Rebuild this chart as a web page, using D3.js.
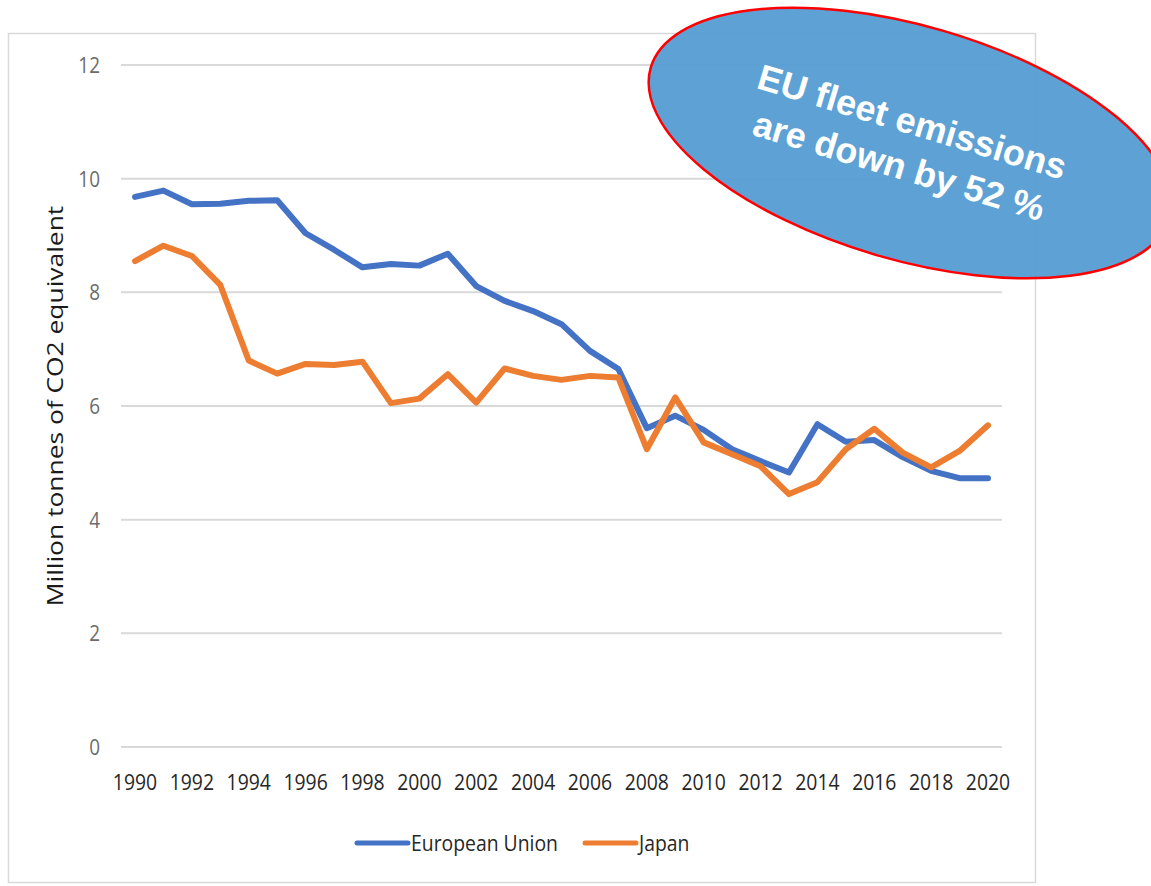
<!DOCTYPE html>
<html>
<head>
<meta charset="utf-8">
<script src="https://cdn.jsdelivr.net/npm/d3@7"></script>
<style>
  body { margin: 0; background: #fff; }
</style>
</head>
<body>
<script>
var years = [1990, 1991, 1992, 1993, 1994, 1995, 1996, 1997, 1998, 1999, 2000,
  2001, 2002, 2003, 2004, 2005, 2006, 2007, 2008, 2009, 2010,
  2011, 2012, 2013, 2014, 2015, 2016, 2017, 2018, 2019, 2020];

var euValues = [9.68, 9.79, 9.55, 9.56, 9.61, 9.62, 9.04, 8.75, 8.44, 8.50, 8.47,
  8.68, 8.11, 7.85, 7.67, 7.44, 6.97, 6.65, 5.61, 5.83, 5.58,
  5.24, 5.03, 4.83, 5.68, 5.37, 5.40, 5.10, 4.86, 4.73, 4.73];

var japanValues = [8.55, 8.82, 8.64, 8.13, 6.80, 6.57, 6.74, 6.72, 6.78, 6.05, 6.13,
  6.56, 6.06, 6.66, 6.53, 6.46, 6.53, 6.50, 5.24, 6.15, 5.36,
  5.15, 4.94, 4.45, 4.66, 5.24, 5.60, 5.18, 4.92, 5.21, 5.66];

var yTicks = [0, 2, 4, 6, 8, 10, 12];
var xTicks = [1990, 1992, 1994, 1996, 1998, 2000, 2002, 2004, 2006, 2008, 2010,
  2012, 2014, 2016, 2018, 2020];

var seriesNames = ["European Union", "Japan"];
var seriesColors = ["#4472c4", "#ed7d31"];
var calloutLines = ["EU fleet emissions", "are down by 52 %"];

var width = 1151,
  height = 886;

var font = "'Open Sans', sans-serif";

var svg = d3
  .select("body")
  .append("svg")
  .attr("width", width)
  .attr("height", height);

// chart frame
svg
  .append("rect")
  .attr("x", 8.5)
  .attr("y", 33.5)
  .attr("width", 1027)
  .attr("height", 849)
  .attr("fill", "#fff")
  .attr("stroke", "#d9d9d9")
  .attr("stroke-width", 1.5);

var x = d3.scaleLinear().domain([1990, 2020]).range([135, 988]);
var y = d3.scaleLinear().domain([0, 12]).range([747, 65]);

// gridlines
svg
  .append("g")
  .selectAll("line")
  .data(yTicks)
  .enter()
  .append("line")
  .attr("x1", 121)
  .attr("x2", 1002)
  .attr("y1", function(d) { return y(d); })
  .attr("y2", function(d) { return y(d); })
  .attr("stroke", "#d9d9d9")
  .attr("stroke-width", 2);

// y tick labels (squeezed a little to look like the condensed original)
svg
  .append("g")
  .selectAll("text")
  .data(yTicks)
  .enter()
  .append("text")
  .attr("transform", function(d) { return "translate(100," + y(d) + ") scale(0.86,1)"; })
  .attr("dy", "0.36em")
  .attr("text-anchor", "end")
  .attr("font-family", font)
  .attr("font-size", 22)
  .attr("fill", "#6b6b6b")
  .text(function(d) { return d; });

// x tick labels
svg
  .append("g")
  .selectAll("text")
  .data(xTicks)
  .enter()
  .append("text")
  .attr("transform", function(d) { return "translate(" + x(d) + ",790) scale(0.88,1)"; })
  .attr("text-anchor", "middle")
  .attr("font-family", font)
  .attr("font-size", 22)
  .attr("fill", "#262626")
  .text(function(d) { return d; });

// y axis title
svg
  .append("text")
  .attr("transform", "translate(63,406) rotate(-90) scale(1.2,1)")
  .attr("text-anchor", "middle")
  .attr("font-family", font)
  .attr("font-size", 22)
  .attr("fill", "#1a1a1a")
  .text("Million tonnes of CO2 equivalent");

var line = d3
  .line()
  .x(function(d) { return x(d.year); })
  .y(function(d) { return y(d.value); });

var series = [euValues, japanValues].map(function(vals, i) {
  return {
    name: seriesNames[i],
    color: seriesColors[i],
    points: years.map(function(yr, j) { return { year: yr, value: vals[j] }; })
  };
});

svg
  .append("g")
  .selectAll("path")
  .data(series)
  .enter()
  .append("path")
  .attr("d", function(d) { return line(d.points); })
  .attr("fill", "none")
  .attr("stroke", function(d) { return d.color; })
  .attr("stroke-width", 6)
  .attr("stroke-linejoin", "round")
  .attr("stroke-linecap", "round");

// legend
var legendX = [357, 585];
var legend = svg
  .append("g")
  .selectAll("g")
  .data(series)
  .enter()
  .append("g")
  .attr("transform", function(d, i) { return "translate(" + legendX[i] + ",843)"; });

legend
  .append("line")
  .attr("x1", 0)
  .attr("x2", 51)
  .attr("stroke", function(d) { return d.color; })
  .attr("stroke-width", 5)
  .attr("stroke-linecap", "round");

legend
  .append("text")
  .attr("transform", "translate(54,0) scale(0.88,1)")
  .attr("dy", "0.36em")
  .attr("font-family", font)
  .attr("font-size", 22)
  .attr("fill", "#262626")
  .text(function(d) { return d.name; });

// callout ellipse
var callout = svg
  .append("g")
  .attr("transform", "translate(910,143) rotate(16.2)");

callout
  .append("ellipse")
  .attr("rx", 270)
  .attr("ry", 117)
  .attr("fill", "#559cd3")
  .attr("fill-opacity", 0.95)
  .attr("stroke", "#ff0000")
  .attr("stroke-width", 2.5);

callout
  .append("g")
  .attr("transform", "translate(-4,2) rotate(0.5)")
  .selectAll("text")
  .data(calloutLines)
  .enter()
  .append("text")
  .attr("x", 0)
  .attr("y", function(d, i) { return (i - 0.5) * 46; })
  .attr("dy", "0.35em")
  .attr("text-anchor", "middle")
  .attr("font-family", "'Liberation Sans', Arial, sans-serif")
  .attr("font-weight", "bold")
  .attr("font-size", 36)
  .attr("fill", "#fff")
  .text(function(d) { return d; });
</script>
</body>
</html>
